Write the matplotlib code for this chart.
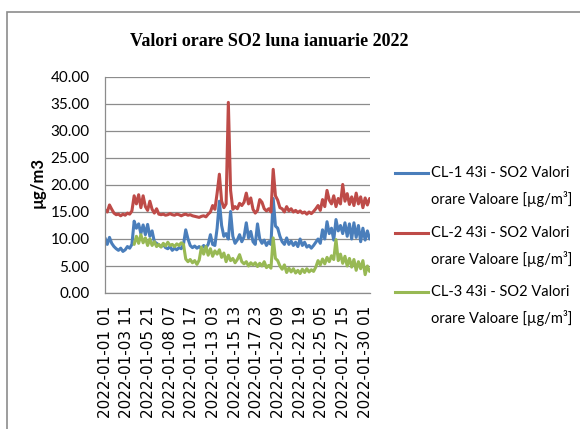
import numpy as np
import matplotlib
matplotlib.use("Agg")
import matplotlib.pyplot as plt
from matplotlib.lines import Line2D
from matplotlib.patches import Rectangle

hours = list(range(0, 709, 6))

cl2_red = [15.4, 15.0, 16.3, 15.5, 14.8, 14.5, 14.6, 14.3, 14.6, 14.4,
           14.8, 14.6, 15.2, 18.0, 16.5, 18.2, 15.8, 18.0, 16.0, 15.3,
           17.0, 15.5, 14.8, 15.6, 14.6, 14.5,
           14.6, 14.4, 14.5, 14.7, 14.5, 14.4, 14.6, 14.5, 14.3, 14.5,
           14.6, 14.4, 14.5, 14.3, 14.2, 14.1, 14.0, 14.2, 14.3, 14.1, 14.6,
           15.0, 16.2, 15.5, 18.5, 22.0, 17.0, 15.8, 16.5, 35.3, 19.0,
           15.5, 16.0, 15.6, 16.6, 16.2, 16.8, 18.5, 16.5, 17.6, 15.5,
           14.8, 15.3, 17.3, 16.8, 15.6, 15.2, 15.6, 15.0, 22.9, 18.0,
           17.2, 15.8, 15.6, 15.0, 16.0, 15.2, 15.6, 15.0, 15.3, 14.9,
           15.2, 14.8, 15.0, 14.6, 15.0, 14.7, 15.1, 15.6, 16.2, 15.3,
           17.3, 16.0, 19.0, 17.2, 16.5, 18.0, 16.0, 17.5, 16.5, 20.1,
           17.0, 18.4, 16.4, 17.8, 16.2, 18.5, 16.5, 17.8, 15.8, 17.6,
           16.3, 17.5]

cl1_blue = [10.2, 9.0, 10.3, 9.2, 8.6, 8.2, 7.9, 8.3, 7.7, 8.0,
            8.6, 8.3, 9.0, 13.3, 12.0, 12.8, 11.0, 12.6, 10.8, 12.7,
            10.5, 11.5, 9.5, 9.2, 8.9, 8.6, 9.0, 8.4, 8.2, 8.6,
            7.9, 8.3, 8.0, 8.4, 8.2, 9.0, 11.7, 10.0, 8.8, 8.4,
            8.7, 8.3, 8.6, 8.2, 8.8, 8.4, 9.0, 10.8, 9.0, 8.8,
            12.0, 17.0, 12.5, 10.5, 11.0, 10.0, 15.1, 10.5, 9.2, 9.8,
            10.8, 9.5, 10.4, 13.0, 10.2, 11.4, 9.5, 9.0, 12.8, 10.0,
            9.2, 9.8, 8.8, 9.5, 9.0, 17.5, 12.4, 12.0, 10.5, 9.5,
            9.0, 10.2, 9.0, 9.6, 8.8, 9.4, 8.6, 10.0, 8.8, 9.4,
            8.5, 8.8, 8.3, 8.8, 9.4, 10.0, 9.2, 11.7, 10.0, 13.2,
            11.0, 12.0, 9.8, 13.6, 11.5, 12.5, 11.0, 13.0, 10.5, 12.8,
            10.0, 13.0, 10.3, 12.5, 9.5, 12.0, 9.8, 11.5, 10.0]

nan = float("nan")
cl3_green = [nan, nan, nan, nan, nan, nan, nan, nan, nan, nan,
             nan, nan, nan, 9.0, 10.5, 9.2, 10.8, 9.3, 10.2, 8.8,
             10.0, 8.8, 9.5, 8.6, 9.0, 8.5, 9.2, 8.7, 9.4, 8.8,
             9.0, 8.6, 9.1, 8.8, 9.3, 9.0, 6.3, 5.8, 6.2, 5.6,
             6.0, 5.3, 6.1, 8.5, 7.2, 8.6, 7.0, 8.2, 6.8, 7.8,
             7.2, 8.0, 6.6, 7.4, 5.8, 7.0, 6.0, 6.4, 5.6, 6.2,
             7.1, 5.8, 5.4, 5.8, 5.0, 5.6, 5.2, 5.6, 4.9, 5.5,
             5.0, 5.8, 4.7, 5.1, 4.6, 10.2, 6.4, 6.0, 5.0, 4.4,
             5.2, 3.8, 4.6, 3.9, 4.5, 3.7, 4.2, 3.6, 4.4, 3.8,
             4.5, 3.9, 4.3, 4.0, 4.8, 6.0, 5.2, 6.3, 5.4, 6.6,
             5.8, 6.9, 6.2, 9.9, 6.0, 7.2, 5.5, 6.8, 5.0, 6.4,
             4.8, 6.2, 4.2, 5.8, 4.5, 6.0, 3.4, 5.0, 4.0]

tick_positions = list(range(0, 697, 58))
tick_labels = ["2022-01-01 01", "2022-01-03 11", "2022-01-05 21", "2022-01-08 07",
               "2022-01-10 17", "2022-01-13 03", "2022-01-15 13", "2022-01-17 23",
               "2022-01-20 09", "2022-01-22 19", "2022-01-25 05", "2022-01-27 15",
               "2022-01-30 01"]

series_names = ["CL-1 43i - SO2 Valori orare Valoare [µg/m³]",
                "CL-2 43i - SO2 Valori orare Valoare [µg/m³]",
                "CL-3 43i - SO2 Valori orare Valoare [µg/m³]"]
colors = ["#4A7EBB", "#BE4B48", "#98B954"]

# ---- figure ----
W, H = 580, 429
fig = plt.figure(figsize=(W / 100, H / 100), dpi=100)
fig.patch.set_facecolor("white")

# outer chart border
fig.add_artist(Rectangle((7 / W, -0.05), 1.2, 1 - 12 / H + 0.05, transform=fig.transFigure,
                         fill=False, edgecolor="#8c8c8c", linewidth=1.2))

ax = fig.add_axes([105 / W, 1 - 293 / H, (370 - 105) / W, (293 - 77) / H])

calib = ["Lato", "DejaVu Sans"]

lines = []
for vals, c in zip([cl1_blue, cl2_red, cl3_green], colors):
    ln, = ax.plot(hours, vals, color=c, linewidth=2.2, solid_joinstyle="round",
                  solid_capstyle="round")
    lines.append(ln)

ax.set_xlim(0, 709)
ax.set_ylim(0, 40)
ax.set_yticks(np.arange(0, 40.1, 5))
ax.set_yticklabels([f"{v:.2f}" for v in np.arange(0, 40.1, 5)], family=calib, fontsize=11)
ax.set_xticks(tick_positions)
ax.set_xticklabels(tick_labels, rotation=90, family="DejaVu Sans", fontsize=11)
ax.tick_params(axis="y", length=0, pad=11)
ax.tick_params(axis="x", length=0, pad=9)
ax.grid(axis="y", color="#8c8c8c", linewidth=0.9)
ax.set_axisbelow(True)
for s in ["top", "right"]:
    ax.spines[s].set_visible(False)
for s in ["left", "bottom"]:
    ax.spines[s].set_color("#8c8c8c")
    ax.spines[s].set_linewidth(0.9)

ax.set_ylabel("µg/m3", family=calib, fontweight="bold", fontsize=12)
ax.yaxis.set_label_coords((46 - 105) / (370 - 105), (293 - 183) / (293 - 77))

fig.text(269 / W, 1 - 41 / H, "Valori orare SO2 luna ianuarie 2022", family="Liberation Serif",
         fontweight="bold", fontsize=13, ha="center", va="center")

# legend (manual, two lines per entry)
leg_y = [173, 233, 292]
for ln, name, y in zip(lines, series_names, leg_y):
    fig.add_artist(Line2D([395 / W, 428 / W], [1 - y / H, 1 - y / H], transform=fig.transFigure,
                          color=ln.get_color(), linewidth=2.2))
    first, second = name.split(" orare ")
    fig.text(431 / W, 1 - y / H, first, family=calib, fontsize=10.5, ha="left", va="center")
    fig.text(431 / W, 1 - (y + 26) / H, "orare " + second, family=calib, fontsize=10.5,
             ha="left", va="center")

fig.savefig("out.png", dpi=100, facecolor="white")
